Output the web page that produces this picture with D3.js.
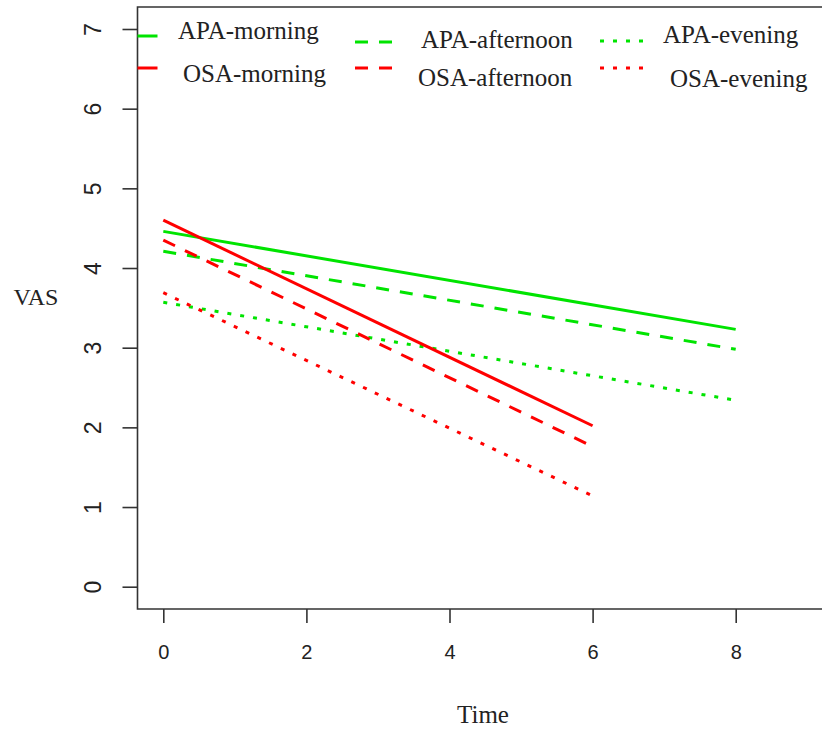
<!DOCTYPE html>
<meta charset="utf-8">
<script src="https://d3js.org/d3.v7.min.js"></script>
<style>
body { margin: 0; background: #fff; }
</style>
<div id="chart"></div>
<script>

// data
var apaTimes = [0, 8];
var osaTimes = [0, 6];
var apaMorning   = [4.46, 3.23];
var apaAfternoon = [4.21, 2.98];
var apaEvening   = [3.57, 2.34];
var osaMorning   = [4.60, 2.02];
var osaAfternoon = [4.35, 1.76];
var osaEvening   = [3.69, 1.14];
var xTicks = [0, 2, 4, 6, 8];
var yTicks = [0, 1, 2, 3, 4, 5, 6, 7];

var green = "#00e400", red = "#ff0000";
var dashes = { morning: null, afternoon: "13,11", evening: "4,9" };

var series = [
  {name: "APA-morning",   times: apaTimes, values: apaMorning,   color: green, dash: dashes.morning},
  {name: "APA-afternoon", times: apaTimes, values: apaAfternoon, color: green, dash: dashes.afternoon},
  {name: "APA-evening",   times: apaTimes, values: apaEvening,   color: green, dash: dashes.evening},
  {name: "OSA-morning",   times: osaTimes, values: osaMorning,   color: red,   dash: dashes.morning},
  {name: "OSA-afternoon", times: osaTimes, values: osaAfternoon, color: red,   dash: dashes.afternoon},
  {name: "OSA-evening",   times: osaTimes, values: osaEvening,   color: red,   dash: dashes.evening}
];

var W = 822, H = 729;
var box = {left: 137.5, top: 7, bottom: 609};

var svg = d3.select("#chart").append("svg")
    .attr("width", W)
    .attr("height", H);

var x = d3.scaleLinear().domain([0, 8]).range([163.3, 735.7]);
var y = d3.scaleLinear().domain([0, 7]).range([586.7, 29]);

// frame (right side runs off the picture)
svg.append("path")
  .attr("d", "M" + (W + 5) + "," + box.top + "H" + box.left + "V" + box.bottom + "H" + (W + 5))
  .attr("fill", "none")
  .attr("stroke", "#333")
  .attr("stroke-width", 1.6);

// Y axis
var gy = svg.append("g")
  .attr("transform", "translate(" + box.left + ",0)")
  .call(d3.axisLeft(y).tickValues(yTicks).tickSize(15).tickFormat(d3.format("d")));
gy.select(".domain").remove();
gy.selectAll(".tick line").attr("stroke", "#333").attr("stroke-width", 1.6);
gy.selectAll(".tick text")
  .attr("x", 0).attr("dy", 0)
  .attr("transform", "translate(-45,0) rotate(-90)")
  .attr("text-anchor", "middle")
  .attr("dominant-baseline", "central")
  .style("font-family", "'Liberation Sans', Arial, sans-serif")
  .style("font-size", "23px")
  .attr("fill", "#222");

// X axis
var gx = svg.append("g")
  .attr("transform", "translate(0," + box.bottom + ")")
  .call(d3.axisBottom(x).tickValues(xTicks).tickSize(14).tickFormat(d3.format("d")));
gx.select(".domain").remove();
gx.selectAll(".tick line").attr("stroke", "#333").attr("stroke-width", 1.6);
gx.selectAll(".tick text")
  .attr("y", 50).attr("dy", 0)
  .style("font-family", "'Liberation Sans', Arial, sans-serif")
  .style("font-size", "20px")
  .attr("fill", "#222");

// axis titles
svg.append("text")
  .attr("x", 36).attr("y", 305)
  .attr("text-anchor", "middle")
  .style("font-family", "'Liberation Serif', 'Times New Roman', serif")
  .style("font-size", "24px")
  .attr("fill", "#222")
  .text("VAS");

svg.append("text")
  .attr("x", 483).attr("y", 723)
  .attr("text-anchor", "middle")
  .style("font-family", "'Liberation Serif', 'Times New Roman', serif")
  .style("font-size", "25px")
  .attr("fill", "#222")
  .text("Time");

// lines
var line = d3.line()
  .x(function(d) { return x(d[0]); })
  .y(function(d) { return y(d[1]); });

svg.selectAll(".series")
  .data(series)
  .enter()
  .append("path")
    .attr("class", "series")
    .attr("d", function(d) { return line(d3.zip(d.times, d.values)); })
    .attr("fill", "none")
    .attr("stroke", function(d) { return d.color; })
    .attr("stroke-width", 3)
    .attr("stroke-dasharray", function(d) { return d.dash; });

// legend (3 columns x 2 rows, text offsets as in the original)
var legPos = [
  {lx: 137.5, lw: 20, ly: 36, tx: 178, ty: 39},
  {lx: 355,   lw: 40, ly: 42, tx: 421, ty: 48},
  {lx: 600,   lw: 50, ly: 41, tx: 663, ty: 43},
  {lx: 137.5, lw: 20, ly: 68, tx: 183, ty: 82},
  {lx: 355,   lw: 40, ly: 68, tx: 418, ty: 86},
  {lx: 600,   lw: 50, ly: 68, tx: 670, ty: 87}
];

var leg = svg.selectAll(".leg")
  .data(series)
  .enter()
  .append("g")
    .attr("class", "leg");

leg.append("line")
  .attr("x1", function(d, i) { return legPos[i].lx; })
  .attr("x2", function(d, i) { return legPos[i].lx + legPos[i].lw; })
  .attr("y1", function(d, i) { return legPos[i].ly; })
  .attr("y2", function(d, i) { return legPos[i].ly; })
  .attr("stroke", function(d) { return d.color; })
  .attr("stroke-width", 3)
  .attr("stroke-dasharray", function(d) { return d.dash; });

leg.append("text")
  .attr("x", function(d, i) { return legPos[i].tx; })
  .attr("y", function(d, i) { return legPos[i].ty; })
  .style("font-family", "'Liberation Serif', 'Times New Roman', serif")
  .style("font-size", "25px")
  .attr("fill", "#222")
  .text(function(d) { return d.name; });

</script>
